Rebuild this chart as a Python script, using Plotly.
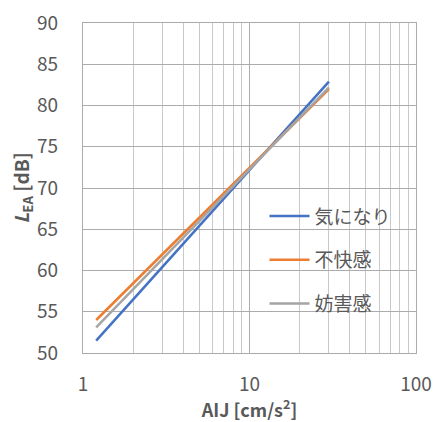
import plotly.graph_objects as go

# Data
x_vals = [1.2, 30]
series_names = ["気になり", "不快感", "妨害感"]
kininari = [51.5, 82.9]
fukaikan = [54.0, 82.0]
bougaikan = [53.1, 82.2]
colors = ["#4472C4", "#ED7D31", "#A5A5A5"]
y_ticks = [50, 55, 60, 65, 70, 75, 80, 85, 90]
x_ticks = [1, 10, 100]

FONT = "Noto Sans CJK JP, Noto Sans, sans-serif"
TXT = "#595959"

fig = go.Figure()
for i, (name, ys) in enumerate(zip(series_names, [kininari, fukaikan, bougaikan])):
    fig.add_trace(go.Scatter(
        x=x_vals, y=ys, mode="lines", name=name,
        line=dict(color=colors[i], width=2.5),
        legendgroup=f"g{i}",
    ))

fig.update_layout(
    width=434, height=422,
    margin=dict(l=83, r=18, t=23, b=69),
    paper_bgcolor="white", plot_bgcolor="white",
    font=dict(family=FONT, size=19, color=TXT),
    showlegend=True,
    legend=dict(
        x=0.545, y=0.472, xanchor="left", yanchor="top",
        bgcolor="rgba(0,0,0,0)", tracegroupgap=16,
        font=dict(size=19, color=TXT), itemwidth=40,
    ),
    xaxis=dict(
        type="log", range=[0, 2], automargin=False,
        tickvals=x_ticks, ticktext=[str(v) for v in x_ticks],
        showgrid=True, gridcolor="#ABABAB", gridwidth=1.3,
        minor=dict(dtick="D1", showgrid=True, gridcolor="#C9C9C9", gridwidth=1),
        showline=True, linecolor="#ABABAB", linewidth=1.3, mirror=True,
        ticks="", ticklabelstandoff=14,
        tickfont=dict(size=19, color=TXT),
        title=dict(text="<b>AIJ [cm/s<sup>2</sup>]</b>", standoff=8,
                   font=dict(size=18, color=TXT)),
        zeroline=False,
    ),
    yaxis=dict(
        range=[50, 90], tickvals=y_ticks, automargin=False,
        showgrid=True, gridcolor="#ABABAB", gridwidth=1.3,
        showline=True, linecolor="#ABABAB", linewidth=1.3, mirror=True,
        ticks="", ticklabelstandoff=20,
        tickfont=dict(size=19, color=TXT),
        title=dict(text="<b><i>L</i><sub>EA</sub> [dB]</b>", standoff=0,
                   font=dict(size=19, color=TXT)),
        zeroline=False,
    ),
)

fig.write_html("out.html")
